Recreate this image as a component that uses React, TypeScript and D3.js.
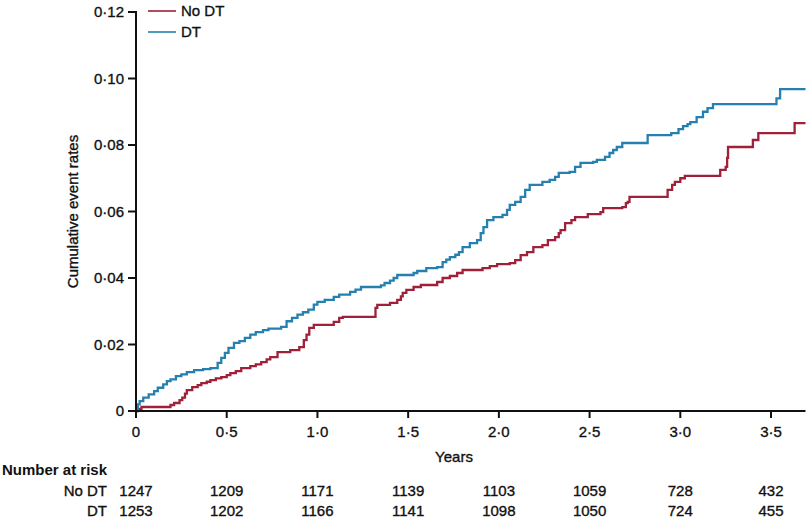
import React from "react";
import * as d3 from "d3";

const seriesNames = ["No DT", "DT"];
const seriesColors = ["#9e2039", "#2580b0"];

const noDT: [number, number][] = [
  [0, 0], [0.01, 0.0006], [0.03, 0.0012], [0.19, 0.0018], [0.21, 0.0024], [0.24, 0.0033], [0.255, 0.004],
  [0.27, 0.0052], [0.28, 0.0063], [0.31, 0.0072], [0.34, 0.0078], [0.36, 0.0084], [0.39, 0.0088],
  [0.41, 0.0093], [0.44, 0.0098], [0.47, 0.0102], [0.5, 0.0108], [0.52, 0.0114], [0.55, 0.012],
  [0.58, 0.0129], [0.63, 0.0135], [0.66, 0.014], [0.69, 0.0147], [0.72, 0.0155], [0.74, 0.0162],
  [0.78, 0.0177], [0.85, 0.0183], [0.9, 0.0192], [0.925, 0.0213], [0.94, 0.023], [0.955, 0.025],
  [0.98, 0.0259], [1.09, 0.0268], [1.12, 0.028], [1.14, 0.0283], [1.32, 0.031], [1.33, 0.0319],
  [1.4, 0.0325], [1.44, 0.0334], [1.46, 0.0345], [1.47, 0.0355], [1.49, 0.0364], [1.53, 0.0373],
  [1.57, 0.0379], [1.66, 0.0388], [1.69, 0.04], [1.73, 0.0406], [1.77, 0.0415], [1.8, 0.0424],
  [1.91, 0.043], [1.95, 0.0436], [1.99, 0.0442], [2.06, 0.0445], [2.09, 0.0454], [2.12, 0.0469],
  [2.155, 0.0478], [2.19, 0.0493], [2.24, 0.0499], [2.27, 0.0514], [2.31, 0.0523], [2.33, 0.0535],
  [2.34, 0.0544], [2.365, 0.0565], [2.4, 0.0574], [2.42, 0.0583], [2.49, 0.0592], [2.56, 0.0598],
  [2.575, 0.061], [2.68, 0.0613], [2.7, 0.0625], [2.71, 0.0629], [2.72, 0.0644], [2.93, 0.0665],
  [2.955, 0.068], [2.97, 0.0689], [3.0, 0.07], [3.025, 0.0707], [3.22, 0.0725], [3.25, 0.0734],
  [3.258, 0.0761], [3.263, 0.0794], [3.4, 0.0815], [3.43, 0.0836], [3.63, 0.0866], [3.69, 0.0866],
];

const withDT: [number, number][] = [
  [0, 0], [0.01, 0.002], [0.02, 0.003], [0.04, 0.004], [0.07, 0.005], [0.1, 0.006], [0.12, 0.007],
  [0.15, 0.008], [0.17, 0.009], [0.19, 0.0095], [0.22, 0.0105], [0.25, 0.011], [0.28, 0.0117],
  [0.32, 0.0123], [0.37, 0.0126], [0.41, 0.0129], [0.45, 0.0145], [0.47, 0.016], [0.49, 0.0175],
  [0.51, 0.019], [0.54, 0.0205], [0.57, 0.021], [0.6, 0.022], [0.63, 0.023], [0.66, 0.0237],
  [0.7, 0.0243], [0.73, 0.0248], [0.8, 0.0253], [0.83, 0.027], [0.86, 0.028], [0.89, 0.029],
  [0.92, 0.0297], [0.95, 0.0305], [0.98, 0.032], [1.0, 0.0328], [1.04, 0.0334], [1.09, 0.0343],
  [1.12, 0.035], [1.18, 0.0358], [1.21, 0.0365], [1.24, 0.0373], [1.35, 0.0378], [1.37, 0.0385],
  [1.4, 0.0392], [1.42, 0.04], [1.44, 0.0409], [1.53, 0.0415], [1.55, 0.0421], [1.6, 0.043],
  [1.66, 0.0433], [1.69, 0.0448], [1.71, 0.0455], [1.73, 0.0463], [1.76, 0.047], [1.78, 0.0478],
  [1.8, 0.0493], [1.84, 0.0505], [1.88, 0.0514], [1.9, 0.0535], [1.915, 0.0553], [1.935, 0.0574],
  [1.97, 0.0583], [2.02, 0.059], [2.045, 0.0605], [2.06, 0.062], [2.09, 0.0629], [2.12, 0.0644],
  [2.145, 0.0665], [2.17, 0.068], [2.24, 0.0689], [2.28, 0.0695], [2.31, 0.0704], [2.33, 0.0716],
  [2.39, 0.0719], [2.42, 0.0734], [2.45, 0.0746], [2.52, 0.0749], [2.54, 0.0755], [2.585, 0.0764],
  [2.61, 0.0776], [2.63, 0.0785], [2.65, 0.0794], [2.68, 0.0806], [2.82, 0.083], [2.95, 0.0836],
  [2.99, 0.0848], [3.015, 0.0857], [3.04, 0.0863], [3.055, 0.0869], [3.09, 0.0884], [3.125, 0.09],
  [3.15, 0.0911], [3.18, 0.0923], [3.53, 0.094], [3.55, 0.0968], [3.69, 0.0968],
];

const xTicks = [0, 0.5, 1.0, 1.5, 2.0, 2.5, 3.0, 3.5];
const yTicks = [0, 0.02, 0.04, 0.06, 0.08, 0.1, 0.12];
const riskNoDT = [1247, 1209, 1171, 1139, 1103, 1059, 728, 432];
const riskDT = [1253, 1202, 1166, 1141, 1098, 1050, 724, 455];

const fmtX = (v: number) => (v === 0 ? "0" : v.toFixed(1).replace(".", "\u00b7"));
const fmtY = (v: number) => (v === 0 ? "0" : v.toFixed(2).replace(".", "\u00b7"));

export default function App() {
  const W = 812, H = 519;
  const x = d3.scaleLinear().domain([0, 3.69]).range([136, 805.5]);
  const y = d3.scaleLinear().domain([0, 0.12]).range([411, 12]);
  const line = d3
    .line<[number, number]>()
    .x((d) => x(d[0]))
    .y((d) => y(d[1]))
    .curve(d3.curveStepAfter);
  const font = "'Liberation Sans', Arial, sans-serif";
  const series = [noDT, withDT];
  const fs = 15;
  const txt = { fontSize: fs, fill: "#111", stroke: "#111", strokeWidth: 0.35 };

  return (
    <svg
      width={W}
      height={H}
      style={{ position: "absolute", left: 0, top: 0, background: "#fff" }}
      fontFamily={font}
    >
      <rect width={W} height={H} fill="#fff" />
      {series.map((s, i) => (
        <path key={i} d={line(s) || ""} fill="none" stroke={seriesColors[i]} strokeWidth={2.3} />
      ))}
      <line x1={x(0)} x2={x(0)} y1={y(0.12) - 1} y2={y(0) + 1} stroke="#111" strokeWidth={2} />
      {yTicks.map((t) => (
        <g key={t}>
          <line x1={x(0) - 8} x2={x(0)} y1={y(t)} y2={y(t)} stroke="#111" strokeWidth={2} />
          <text x={124} y={y(t)} dy="0.36em" textAnchor="end" {...txt}>
            {fmtY(t)}
          </text>
        </g>
      ))}
      <line x1={x(0) - 1} x2={x(3.69)} y1={y(0)} y2={y(0)} stroke="#111" strokeWidth={2} />
      {xTicks.map((t) => (
        <g key={t}>
          <line x1={x(t)} x2={x(t)} y1={y(0)} y2={y(0) + 7} stroke="#111" strokeWidth={2} />
          <text x={x(t)} y={437} textAnchor="middle" {...txt}>
            {fmtX(t)}
          </text>
        </g>
      ))}
      <text x={454} y={462} textAnchor="middle" {...txt}>
        Years
      </text>
      <text
        transform={`translate(78, ${(y(0) + y(0.12)) / 2}) rotate(-90)`}
        textAnchor="middle"
        {...txt}
      >
        Cumulative event rates
      </text>
      {seriesNames.map((n, i) => (
        <g key={n}>
          <line x1={148} x2={176} y1={11 + i * 21} y2={11 + i * 21} stroke={seriesColors[i]} strokeWidth={1.6} />
          <text x={181} y={11 + i * 21} dy="0.36em" {...txt}>
            {n}
          </text>
        </g>
      ))}
      <text x={2} y={475} fontSize={fs} fontWeight="bold" fill="#111">
        Number at risk
      </text>
      {[riskNoDT, riskDT].map((row, r) => (
        <g key={r}>
          <text x={107} y={496 + r * 20} textAnchor="end" {...txt}>
            {seriesNames[r]}
          </text>
          {row.map((v, i) => (
            <text key={i} x={x(xTicks[i])} y={496 + r * 20} textAnchor="middle" {...txt}>
              {v}
            </text>
          ))}
        </g>
      ))}
    </svg>
  );
}
